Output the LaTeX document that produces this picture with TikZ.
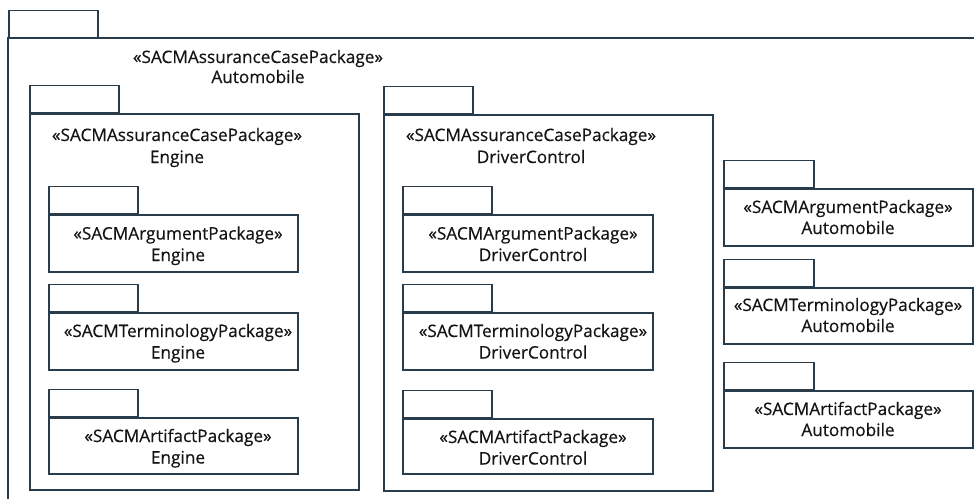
\documentclass[tikz,border=0pt]{standalone}
\usepackage{fontspec}
\setmainfont{Open Sans}[BoldFont=Open Sans, BoldFeatures={FakeBold=0.5}]
\definecolor{pkgline}{RGB}{40,60,75}
\definecolor{pkgtext}{RGB}{20,20,20}
\newcommand{\pkgtxt}[2]{\begin{tabular}[t]{@{}c@{}}#1\\#2\end{tabular}}
\begin{document}
\begin{tikzpicture}[x=1pt,y=-1pt,
  pkgbody/.style={draw=pkgline, line width=1.5pt, anchor=north west, inner sep=0pt, minimum width=#1},
  pkgbody/.default=249pt,
  pkgtab/.style={draw=pkgline, line width=1.5pt, anchor=south west, minimum width=89pt, minimum height=27pt, inner sep=0pt},
  lbl/.style={text=pkgtext, anchor=base, inner sep=0pt, font=\fontsize{17.2}{#1}\selectfont\bfseries},
  lbl/.default=21.5pt,
  ]
\useasboundingbox (0,0) rectangle (974,498);
% outer package
\node[pkgtab] (otab) at (8,38) {};
\coordinate (otr) at (980,38);
\coordinate (obl) at (8,505);
\draw[pkgline, line width=1.5pt] (otr) -- (otab.south west) -- (obl);
\node[lbl=20pt] (olbl) at (258,63) {\pkgtxt{«SACMAssuranceCasePackage»}{Automobile}};

% Engine package
\node[pkgbody=329pt, minimum height=376pt] (eng) at (29,113) {};
\node[pkgtab] (engtab) at (eng.north west) {};
\node[lbl=22pt] (englbl) at (177,141) {\pkgtxt{«SACMAssuranceCasePackage»}{Engine}};

\node[pkgbody, minimum height=57pt] (e1) at (48,214) {};
\node[pkgtab] (e1tab) at (e1.north west) {};
\node[lbl] (e1lbl) at (178,239.5) {\pkgtxt{«SACMArgumentPackage»}{Engine}};

\node[pkgbody, minimum height=57pt] (e2) at (48,312) {};
\node[pkgtab] (e2tab) at (e2.north west) {};
\node[lbl] (e2lbl) at (178,337) {\pkgtxt{«SACMTerminologyPackage»}{Engine}};

\node[pkgbody, minimum height=56pt] (e3) at (48,417) {};
\node[pkgtab] (e3tab) at (e3.north west) {};
\node[lbl] (e3lbl) at (178,442) {\pkgtxt{«SACMArtifactPackage»}{Engine}};

% DriverControl package
\node[pkgbody=329pt, minimum height=376pt] (drv) at (383,114) {};
\node[pkgtab] (drvtab) at (drv.north west) {};
\node[lbl=22pt] (drvlbl) at (531,141) {\pkgtxt{«SACMAssuranceCasePackage»}{DriverControl}};

\node[pkgbody=250pt, minimum height=57pt] (d1) at (402,214) {};
\node[pkgtab] (d1tab) at (d1.north west) {};
\node[lbl] (d1lbl) at (533,239.5) {\pkgtxt{«SACMArgumentPackage»}{DriverControl}};

\node[pkgbody=250pt, minimum height=57pt] (d2) at (402,312) {};
\node[pkgtab] (d2tab) at (d2.north west) {};
\node[lbl] (d2lbl) at (533,337) {\pkgtxt{«SACMTerminologyPackage»}{DriverControl}};

\node[pkgbody=250pt, minimum height=55pt] (d3) at (402,418) {};
\node[pkgtab] (d3tab) at (d3.north west) {};
\node[lbl] (d3lbl) at (533,443) {\pkgtxt{«SACMArtifactPackage»}{DriverControl}};

% Automobile sub-packages
\node[pkgbody, minimum height=57pt] (a1) at (723,188) {};
\node[pkgtab, minimum width=90pt] (a1tab) at (a1.north west) {};
\node[lbl=21pt] (a1lbl) at (848,213) {\pkgtxt{«SACMArgumentPackage»}{Automobile}};

\node[pkgbody, minimum height=56pt] (a2) at (723,287) {};
\node[pkgtab, minimum width=90pt] (a2tab) at (a2.north west) {};
\node[lbl=21pt] (a2lbl) at (848,311) {\pkgtxt{«SACMTerminologyPackage»}{Automobile}};

\node[pkgbody, minimum height=57pt] (a3) at (723,390) {};
\node[pkgtab, minimum width=90pt] (a3tab) at (a3.north west) {};
\node[lbl=21pt] (a3lbl) at (848,415) {\pkgtxt{«SACMArtifactPackage»}{Automobile}};
\end{tikzpicture}
\end{document}
